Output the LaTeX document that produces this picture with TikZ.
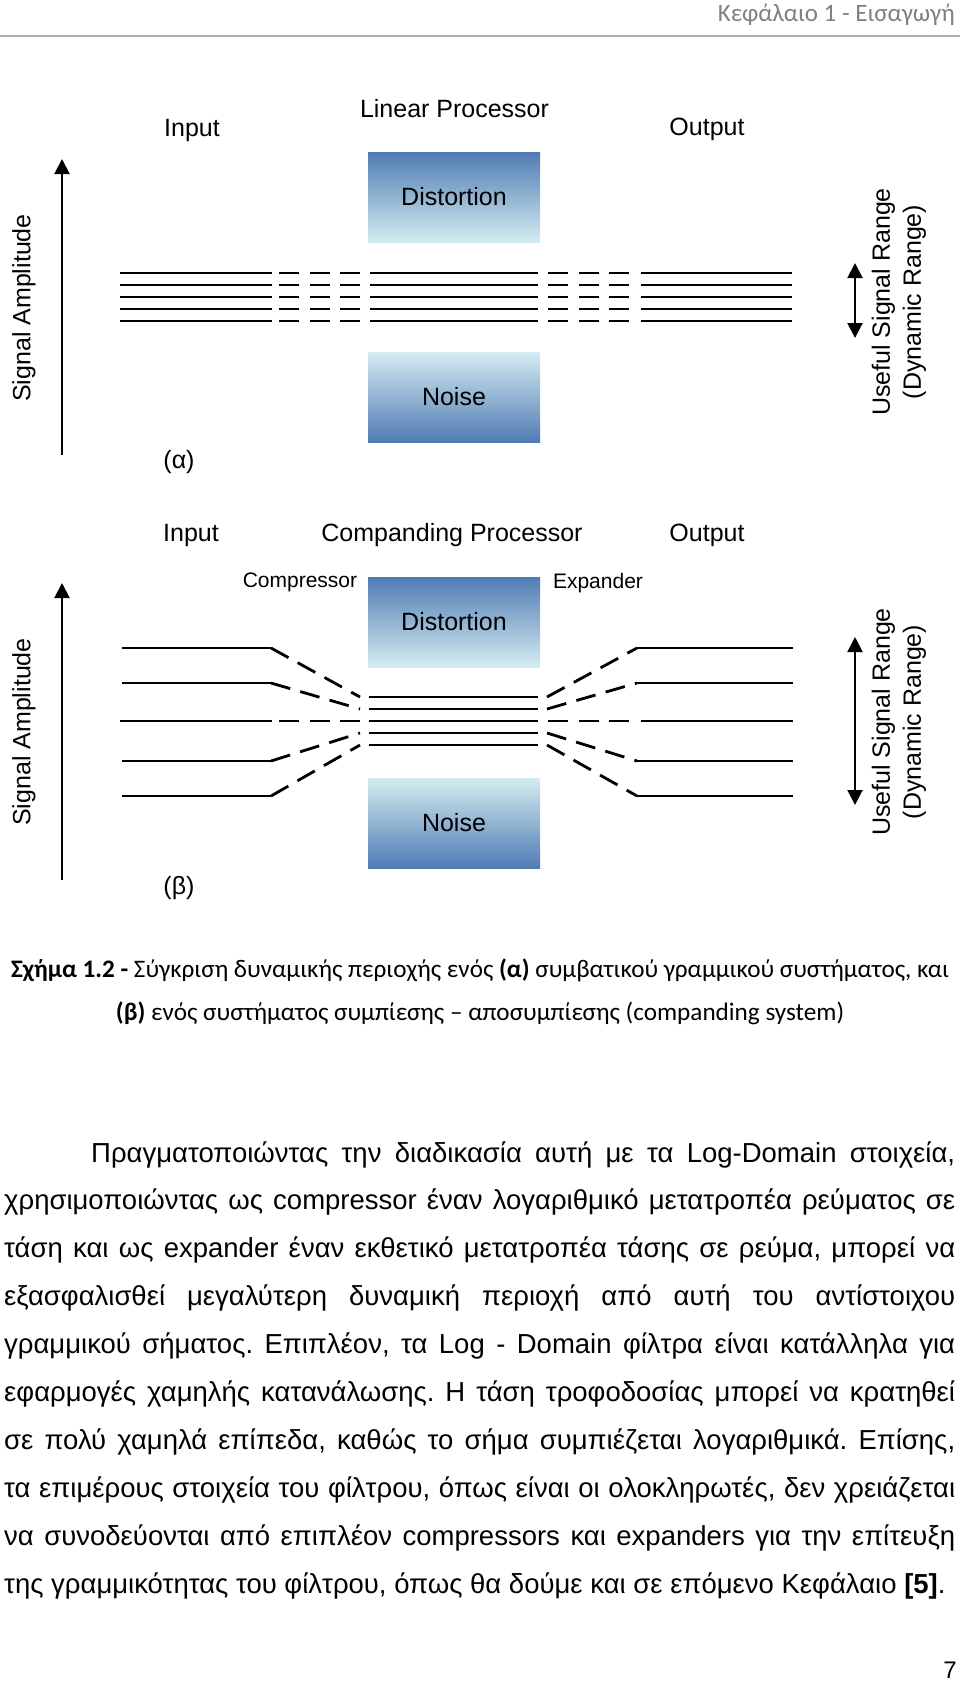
\documentclass[tikz,border=0pt]{standalone}
\usepackage{fontspec}
\setmainfont{Liberation Sans}
\newfontfamily\calibrifont{Carlito}
\usetikzlibrary{arrows.meta}
\definecolor{boxdark}{RGB}{80,124,180}
\definecolor{boxlight}{RGB}{212,236,241}
\definecolor{headgray}{RGB}{128,128,128}
\definecolor{rulegray}{RGB}{175,175,175}
\frenchspacing

\begin{document}
\begin{tikzpicture}[x=1pt,y=1pt]
	\tikzstyle{every node}+=[inner sep=0pt]
	\tikzstyle{toplabel}=[font=\fontsize{25}{30}\selectfont, anchor=base]
	\tikzstyle{sublabel}=[font=\fontsize{21}{25}\selectfont, anchor=base]
	\tikzstyle{sidelabel}=[font=\fontsize{25}{31}\selectfont, rotate=90, align=center]
	\tikzstyle{blockbox}=[minimum width=172pt, minimum height=90pt, font=\fontsize{25}{30}\selectfont]
	\tikzstyle{siglevel}=[black, line width=2.8pt]
	\tikzstyle{sigdash}=[siglevel, dash pattern=on 20pt off 10.5pt]
	\tikzstyle{ampaxis}=[black, line width=2pt, -{Triangle[width=15pt,length=15pt]}]
	\tikzstyle{rangearrow}=[black, line width=2pt, {Triangle[width=15pt,length=15pt]}-{Triangle[width=15pt,length=15pt]}]
	\tikzstyle{caption}=[anchor=base, font=\calibrifont\fontsize{25.2}{30}\selectfont]
	\tikzstyle{bodyline}=[font=\fontsize{27.5}{32}\selectfont, anchor=base west]
	\useasboundingbox (0,0) rectangle (960,-1682);

	\node [anchor=base east, text=headgray, font=\calibrifont\fontsize{25}{30}\selectfont] (chapter) at (955,-21.7) {Κεφάλαιο 1 - Εισαγωγή};
	\draw [rulegray, line width=1.2pt] (0,-36) -- (960,-36);

	\node [toplabel] (inA) at (192,-136) {Input};
	\node [toplabel] (procA) at (454.5,-117) {Linear Processor};
	\node [toplabel] (outA) at (707,-135) {Output};
	\node [blockbox, top color=boxdark, bottom color=boxlight] (distA) at (454,-197) {Distortion};
	\node [blockbox, top color=boxlight, bottom color=boxdark] (noiseA) at (454,-397) {Noise};
	\coordinate (axA0) at (62,-455);
	\coordinate (axA1) at (62,-159);
	\draw [ampaxis] (axA0) -- (axA1);
	\node [sidelabel] (ampA) at (24,-308) {Signal Amplitude};
	\coordinate (rgA0) at (855,-263);
	\coordinate (rgA1) at (855,-338);
	\draw [rangearrow] (rgA0) -- (rgA1);
	\node [sidelabel] (usefulA) at (899,-302) {Useful Signal Range\\(Dynamic Range)};
	\node [font=\fontsize{25}{30}\selectfont] (tagA) at (179,-462) {(α)};
	\foreach \y in {273,285,297,309,321} {
		\draw [siglevel] (120,-\y) -- (272,-\y);
		\draw [sigdash] (279,-\y) -- (360,-\y);
		\draw [siglevel] (370,-\y) -- (538,-\y);
		\draw [sigdash] (548,-\y) -- (629,-\y);
		\draw [siglevel] (641,-\y) -- (792,-\y);
	}

	\node [toplabel] (inB) at (191,-541) {Input};
	\node [toplabel] (procB) at (452,-541) {Companding Processor};
	\node [toplabel] (outB) at (707,-541) {Output};
	\node [sublabel] (compB) at (300,-587) {Compressor};
	\node [sublabel] (expB) at (598,-588) {Expander};
	\node [blockbox, top color=boxdark, bottom color=boxlight] (distB) at (454,-622) {Distortion};
	\node [blockbox, top color=boxlight, bottom color=boxdark] (noiseB) at (454,-823) {Noise};
	\coordinate (axB0) at (62,-880);
	\coordinate (axB1) at (62,-583);
	\draw [ampaxis] (axB0) -- (axB1);
	\node [sidelabel] (ampB) at (24,-732) {Signal Amplitude};
	\coordinate (rgB0) at (855,-637);
	\coordinate (rgB1) at (855,-805);
	\draw [rangearrow] (rgB0) -- (rgB1);
	\node [sidelabel] (usefulB) at (899,-722) {Useful Signal Range\\(Dynamic Range)};
	\node [font=\fontsize{25}{30}\selectfont] (tagB) at (179,-888) {(β)};
	\foreach \yo/\yi in {648/697,683/709,761/733,796/745} {
		\draw [siglevel] (122,-\yo) -- (271,-\yo);
		\draw [sigdash] (271,-\yo) -- (360,-\yi);
		\draw [siglevel] (369,-\yi) -- (538,-\yi);
		\draw [sigdash] (547,-\yi) -- (637,-\yo);
		\draw [siglevel] (637,-\yo) -- (793,-\yo);
	}
	\draw [siglevel] (120,-721) -- (272,-721);
	\draw [sigdash] (279,-721) -- (360,-721);
	\draw [siglevel] (369,-721) -- (538,-721);
	\draw [sigdash] (548,-721) -- (629,-721);
	\draw [siglevel] (641,-721) -- (793,-721);

	\node [caption] (cap1) at (480,-977) {\textbf{Σχήμα 1.2 -} Σύγκριση δυναμικής περιοχής ενός \textbf{(α)} συμβατικού γραμμικού συστήματος, και};
	\node [caption] (cap2) at (480,-1020) {\textbf{(β)} ενός συστήματος συμπίεσης – αποσυμπίεσης (companding system)};

	\node [bodyline] (par1) at (91,-1162) {\makebox[864pt][s]{Πραγματοποιώντας την διαδικασία αυτή με τα Log-Domain στοιχεία,}};
	\node [bodyline] (par2) at (4,-1209.9) {\makebox[951pt][s]{χρησιμοποιώντας ως compressor έναν λογαριθμικό μετατροπέα ρεύματος σε}};
	\node [bodyline] (par3) at (4,-1257.8) {\makebox[951pt][s]{τάση και ως expander έναν εκθετικό μετατροπέα τάσης σε ρεύμα, μπορεί να}};
	\node [bodyline] (par4) at (4,-1305.7) {\makebox[951pt][s]{εξασφαλισθεί μεγαλύτερη δυναμική περιοχή από αυτή του αντίστοιχου}};
	\node [bodyline] (par5) at (4,-1353.6) {\makebox[951pt][s]{γραμμικού σήματος. Επιπλέον, τα Log - Domain φίλτρα είναι κατάλληλα για}};
	\node [bodyline] (par6) at (4,-1401.5) {\makebox[951pt][s]{εφαρμογές χαμηλής κατανάλωσης. Η τάση τροφοδοσίας μπορεί να κρατηθεί}};
	\node [bodyline] (par7) at (4,-1449.4) {\makebox[951pt][s]{σε πολύ χαμηλά επίπεδα, καθώς το σήμα συμπιέζεται λογαριθμικά. Επίσης,}};
	\node [bodyline] (par8) at (4,-1497.3) {\makebox[951pt][s]{τα επιμέρους στοιχεία του φίλτρου, όπως είναι οι ολοκληρωτές, δεν χρειάζεται}};
	\node [bodyline] (par9) at (4,-1545.2) {\makebox[951pt][s]{να συνοδεύονται από επιπλέον compressors και expanders για την επίτευξη}};
	\node [bodyline] (par10) at (4,-1593.1) {της γραμμικότητας του φίλτρου, όπως θα δούμε και σε επόμενο Κεφάλαιο \textbf{[5]}.};
	\node [anchor=base east, font=\fontsize{24}{28}\selectfont] (pageno) at (957,-1678) {7};
\end{tikzpicture}
\end{document}
